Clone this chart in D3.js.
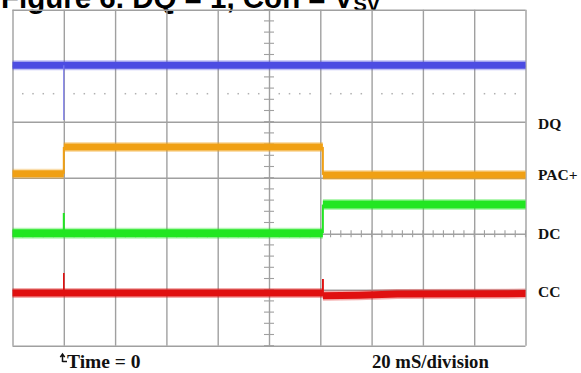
<!DOCTYPE html>
<html><head><meta charset="utf-8">
<script src="https://cdn.jsdelivr.net/npm/d3@7"></script>
<style>
html,body{margin:0;padding:0;background:#fff;overflow:hidden}
svg{display:block}
</style></head>
<body>
<script>
// ---- data (time in ms, level in vertical divisions from bottom) ----
const timeGrid = [-20,0,20,40,60,80,100,120,140,160,180];
const levelGrid = [0,1,2,3,4,5,6];
const traceNames = ["DQ","PAC+","DC","CC"];
const labelLevels = [3.97,3.05,2.01,0.96];
const bottomLabels = ["Time = 0","20 mS/division"];
const titleText = "Figure 6. DQ = 1, Con = V";
const titleSub = "SV";

// each trace: runs of the noisy band [time, level]
const blueRuns   = [[[-20,5.01],[180,5.01]]];
const orangeRuns = [[[-20,3.07],[0,3.07]],[[0,3.55],[101,3.55]],[[101,3.05],[180,3.05]]];
const greenRuns  = [[[-20,2.01],[101,2.01]],[[101,2.52],[180,2.52]]];
const redRuns    = [[[-20,0.94],[101,0.94]],[[101,0.89],[115,0.9],[130,0.925],[180,0.93]]];
// thin spikes / edges: [time, fromLevel, toLevel]
const blueSpikes   = [[0,5.01,4.03]];
const orangeEdges  = [[0,3.07,3.55],[101,3.55,3.05]];
const greenSpikes  = [[0,2.01,2.37],[101,2.01,2.52]];
const redSpikes    = [[0,0.94,1.30],[101,0.94,1.19],[101,1.19,0.89]];

const W=581,H=373;
const svg=d3.select("body").append("svg").attr("width",W).attr("height",H);

const x=d3.scaleLinear().domain([-20,180]).range([12.5,525.5]);
const y=d3.scaleLinear().domain([0,6]).range([345.7,9.7]);
const gridCol="#a0a0a0";

// title (clipped at top, as in the reference)
const tt=svg.append("text").attr("x",1).attr("y",7.5)
  .attr("font-family","Liberation Sans, Arial, sans-serif").attr("font-weight","bold")
  .attr("font-size",29.5).attr("fill","#000").text(titleText);
tt.append("tspan").attr("font-size",20).attr("dy",3).text(titleSub);

// grid via axes
const gx=svg.append("g").attr("transform",`translate(0,${y(6)})`)
  .call(d3.axisBottom(x).tickValues(timeGrid).tickSize(y(0)-y(6)).tickFormat(""));
const gy=svg.append("g").attr("transform",`translate(${x(-20)},0)`)
  .call(d3.axisRight(y).tickValues(levelGrid).tickSize(x(180)-x(-20)).tickFormat(""));
[gx,gy].forEach(g=>{g.select(".domain").remove();
  g.selectAll(".tick line").attr("stroke",gridCol).attr("stroke-width",1.4);});

// minor ticks on center vertical axis (t=80)
const minorLev=d3.range(0,6.001,0.2);
svg.append("g").selectAll("line").data(minorLev).join("line")
  .attr("x1",x(80)-5).attr("x2",x(80)+5)
  .attr("y1",d=>y(d)).attr("y2",d=>y(d))
  .attr("stroke",gridCol).attr("stroke-width",1.1);
// ticks on horizontal line at level 2
const minorT=d3.range(-20,180.001,4);
svg.append("g").selectAll("line").data(minorT).join("line")
  .attr("x1",d=>x(d)).attr("x2",d=>x(d))
  .attr("y1",y(2)-3.5).attr("y2",y(2)+3.5)
  .attr("stroke",gridCol).attr("stroke-width",1.1);
// dotted line at level 4.5
svg.append("g").selectAll("rect").data(minorT.filter(t=>Math.abs(((t+20)%20))>0.01))
  .join("rect").attr("x",d=>x(d)-0.75).attr("y",y(4.5)-0.75)
  .attr("width",1.5).attr("height",1.5).attr("fill","#b0b0b0");

const line=d3.line().x(d=>x(d[0])).y(d=>y(d[1]));

function trace(runs,spikes,col,w,spikeCol,spikeW){
  const g=svg.append("g");
  g.selectAll("path.halo").data(runs).join("path").attr("class","halo")
    .attr("d",line).attr("fill","none").attr("stroke",col).attr("stroke-width",w+3)
    .attr("stroke-opacity",0.35);
  g.selectAll("path.core").data(runs).join("path").attr("class","core")
    .attr("d",line).attr("fill","none").attr("stroke",col).attr("stroke-width",w);
  g.selectAll("line").data(spikes).join("line")
    .attr("x1",d=>x(d[0])).attr("x2",d=>x(d[0]))
    .attr("y1",d=>y(d[1])).attr("y2",d=>y(d[2]))
    .attr("stroke",spikeCol).attr("stroke-width",spikeW);
}
trace(blueRuns,blueSpikes,"#4c4ce2",7,"#7a7af0",1.2);
trace(orangeRuns,orangeEdges,"#f0a014",7,"#f0a014",2);
trace(greenRuns,greenSpikes,"#22e622",8,"#22e622",2);
trace(redRuns,redSpikes,"#e01010",7,"#e01010",1.6);

// right labels
svg.append("g").selectAll("text").data(traceNames).join("text")
  .attr("x",538).attr("y",(d,i)=>y(labelLevels[i])+5.5)
  .attr("font-family","Liberation Serif, Times New Roman, serif").attr("font-weight","bold")
  .attr("font-size",15.5).attr("fill","#111").text(d=>d);

// bottom labels
svg.append("path").attr("d","M62.5,362 L62.5,354.5 M60.3,357.2 L62.5,354 L64.7,357.2 M62.5,361.5 L67,361.5")
  .attr("fill","none").attr("stroke","#111").attr("stroke-width",1.5);
svg.append("text").attr("x",67).attr("y",368).attr("font-family","Liberation Serif, Times New Roman, serif")
  .attr("font-weight","bold").attr("font-size",19.5).attr("fill","#111").text(bottomLabels[0]);
svg.append("text").attr("x",372).attr("y",368).attr("font-family","Liberation Serif, Times New Roman, serif")
  .attr("font-weight","bold").attr("font-size",18.7).attr("fill","#111").text(bottomLabels[1]);
</script>
</body></html>
